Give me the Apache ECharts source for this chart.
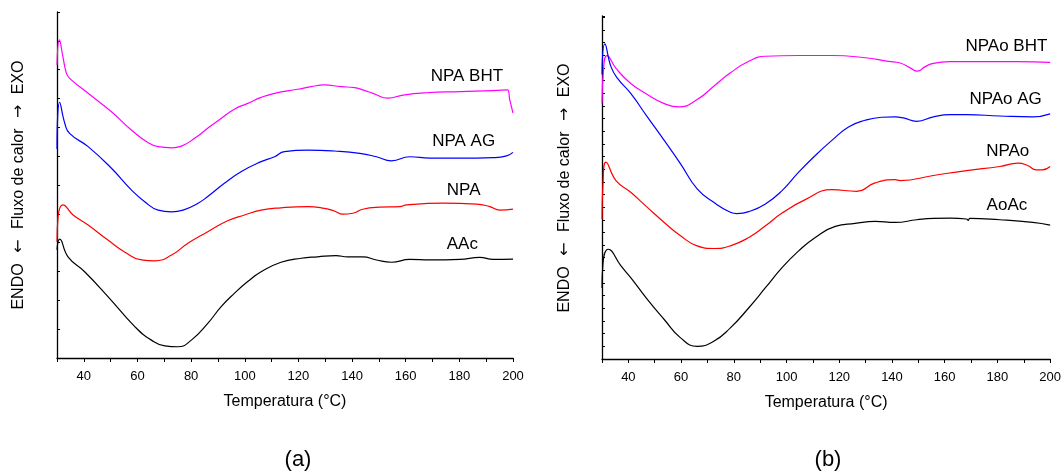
<!DOCTYPE html>
<html>
<head>
<meta charset="utf-8">
<script src="https://cdn.jsdelivr.net/npm/echarts@6/dist/echarts.min.js"></script>
<style>
  html, body { margin: 0; padding: 0; background: #fff; }
  #chart { width: 1064px; height: 471px; }
</style>
</head>
<body>
<div id="chart"></div>
<script>
// DSC curves, temperature (°C) vs. heat flow (arbitrary units, curves offset)

// Panel (a)
const NPA_BHT = [[30,10.16],[30.9,11.03],[32.2,10.45],[33.5,9.88],[34.7,9.70],[41.6,9.18],[50.3,8.54],[57.7,7.91],[63.9,7.47],[67.7,7.33],[72.7,7.29],[76.4,7.35],[81.3,7.62],[86.9,8.02],[91.2,8.31],[96.1,8.63],[101.1,8.83],[106.1,9.04],[111.1,9.18],[119.7,9.32],[124.7,9.41],[129.7,9.47],[135.9,9.41],[140.9,9.38],[144,9.30],[147.8,9.18],[153.4,9.01],[159,9.12],[167.7,9.20],[180.2,9.24],[192.6,9.27],[197.9,9.30],[198.8,8.95],[200,8.49]];
const NPA_AG = [[30,7.25],[31,8.87],[32.9,8.14],[34.7,7.79],[41.6,7.33],[50.3,6.58],[57.7,5.83],[62.7,5.42],[67.7,5.13],[72.7,5.07],[77,5.13],[82.6,5.37],[86.2,5.60],[92.4,6.06],[98.6,6.46],[106.1,6.81],[111.1,6.98],[114.8,7.16],[123.5,7.21],[133.4,7.18],[142.9,7.10],[149.1,6.98],[154.7,6.84],[161.5,6.98],[169,6.93],[180.2,6.93],[192.6,6.95],[197.6,7.01],[200,7.13]];
const NPA = [[30,4.03],[30.4,4.90],[32.2,5.31],[36,4.96],[41.6,4.61],[49,4.09],[55.2,3.68],[61.5,3.40],[66.4,3.37],[72.7,3.57],[78.8,3.98],[86.2,4.38],[93.6,4.76],[99.9,4.96],[106.1,5.13],[113.5,5.21],[123.5,5.25],[129.7,5.19],[133.4,5.10],[136.5,4.99],[140.3,5.02],[144,5.16],[150.3,5.23],[157.8,5.25],[160.3,5.31],[173.9,5.37],[186.4,5.34],[191.3,5.25],[195.1,5.13],[200,5.16]];
const AAC = [[30,3.75],[31,4.12],[34.1,3.51],[40.3,2.99],[49,2.13],[59,1.09],[65.2,0.62],[70.2,0.42],[75.1,0.39],[80.1,0.62],[86.2,1.20],[91.2,1.78],[96.1,2.24],[101.1,2.65],[106.1,2.99],[113.5,3.32],[121,3.46],[127.2,3.51],[134,3.55],[138.4,3.51],[144,3.51],[149.1,3.40],[154.7,3.32],[161.5,3.42],[169,3.40],[180.2,3.42],[187.6,3.49],[192.6,3.42],[200,3.43]];

// Panel (b)
const NPAO_BHT = [[30,20.18],[30.6,22.96],[31.9,23.97],[35.3,22.96],[40.9,21.77],[47.2,20.90],[53.6,20.18],[59.2,19.92],[66.1,20.50],[72.4,21.55],[78.7,22.61],[85.7,23.52],[92,23.92],[104.6,23.98],[117.2,23.98],[129.8,23.80],[138.6,23.52],[143.1,23.39],[146.9,23.00],[149.7,22.74],[152.6,23.10],[155.7,23.36],[162,23.49],[174.6,23.49],[187.2,23.49],[200,23.44]];
const NPAO_AG = [[30,22.5],[31.1,24.89],[33.4,23.10],[35.9,22.17],[40.9,20.98],[47.2,19.13],[53.6,17.27],[59.8,15.42],[66.1,13.44],[72.4,12.38],[78.7,11.59],[81.2,11.48],[85.7,11.64],[92,12.25],[98.3,13.30],[104.6,14.76],[110.9,16.08],[117.2,17.27],[123.5,18.33],[129.8,18.86],[136.1,19.10],[141.1,19.13],[144.3,19.05],[149.4,18.78],[155.7,19.13],[162,19.31],[168.3,19.31],[180.9,19.20],[193.4,19.13],[200,19.37]];
const NPAO = [[30,11.06],[30.4,13.97],[31.5,15.56],[35.3,14.10],[40.9,13.17],[47.2,11.98],[53.6,10.79],[59.8,9.73],[66.1,8.94],[72.4,8.73],[78.7,8.94],[85.7,9.60],[92,10.52],[98.3,11.53],[107.1,12.59],[117.2,13.38],[126.6,13.25],[133.6,13.91],[141.1,14.17],[143.1,14.10],[155.7,14.50],[168.3,14.89],[180.9,15.21],[187.8,15.48],[191.5,15.29],[194.7,14.94],[197,14.94],[200,15.21]];
const AOAC = [[30,5.6],[30.3,7.35],[32.4,8.67],[37.2,7.35],[40.9,6.43],[47.2,4.71],[53.6,3.12],[59.8,1.67],[66.1,1.00],[72.4,1.40],[78.7,2.46],[85.7,4.05],[92,5.63],[98.3,7.22],[104.6,8.54],[110.9,9.60],[118.5,10.48],[126,10.71],[133.6,10.87],[141.1,10.79],[149.4,11.00],[155.7,11.11],[162,11.13],[168.3,11.06],[168.9,10.95],[169.5,11.11],[180.9,11.00],[193.4,10.79],[200,10.58]];

// Curve name labels, anchored in data coordinates [T, flow]
const LABELS_A = [['NPA BHT', 182.8, 9.78], ['NPA AG', 181.6, 7.53], ['NPA', 181.6, 5.83], ['AAc', 181.1, 3.95]];
const LABELS_B = [['NPAo BHT', 183.4, 24.68], ['NPAo AG', 183.1, 20.48], ['NPAo', 183.9, 16.43], ['AoAc', 183.6, 12.18]];

const FONT = 'Liberation Sans, Arial, sans-serif';
const Y_NAME = 'ENDO {arr|\u2190} Fluxo de calor {arr|\u2192} EXO';

function xAxisFor(gridIndex) {
  return {
    type: 'value', gridIndex, min: 30, max: 200, interval: 10,
    name: 'Temperatura (°C)', nameLocation: 'middle', nameGap: 36,
    nameTextStyle: { fontSize: 16, color: '#000', fontFamily: FONT },
    axisLine: { show: true, lineStyle: { color: '#000', width: 1.3 } },
    axisTick: { show: true, inside: false, length: 4, lineStyle: { color: '#000', width: 1 } },
    axisLabel: { color: '#000', fontSize: 13, fontFamily: FONT, margin: 12,
      formatter: v => (v % 20 === 0 ? String(v) : '') },
    splitLine: { show: false }
  };
}

function yAxisFor(gridIndex, max) {
  return {
    type: 'value', gridIndex, min: 0, max, interval: 1,
    axisLine: { show: true, lineStyle: { color: '#000', width: 1.3 } },
    axisTick: { show: true, inside: true, length: 3, lineStyle: { color: '#000', width: 1 } },
    axisLabel: { show: false },
    splitLine: { show: false }
  };
}

function curve(name, data, color, axisIndex, labelSpec) {
  const s = {
    name, type: 'line', data, xAxisIndex: axisIndex, yAxisIndex: axisIndex,
    showSymbol: false, smooth: 0.5,
    lineStyle: { color, width: 1.2 }, itemStyle: { color },
    silent: true
  };
  if (labelSpec) {
    s.markPoint = {
      symbol: 'circle', symbolSize: 0, silent: true,
      label: { show: true, position: 'inside', formatter: '{b}', color: '#000', fontSize: 17, fontFamily: FONT },
      data: [{ name: labelSpec[0], coord: [labelSpec[1], labelSpec[2]] }]
    };
  }
  return s;
}

function yName(x, y) {
  return {
    type: 'text', x, y, rotation: Math.PI / 2,
    style: {
      text: Y_NAME, fill: '#000', fontSize: 16, fontFamily: FONT,
      align: 'center', verticalAlign: 'middle', textAlign: 'center', textVerticalAlign: 'middle',
      rich: { arr: { fontSize: 16, fontFamily: 'DejaVu Sans', fill: '#000', padding: [0, 6, 0, 6] } }
    }
  };
}

function panelTag(text, x, y) {
  return {
    type: 'text', x, y,
    style: { text, fill: '#000', fontSize: 22, fontFamily: FONT, align: 'center', verticalAlign: 'middle', textAlign: 'center', textVerticalAlign: 'middle' }
  };
}

const chart = echarts.init(document.getElementById('chart'), null, { renderer: 'canvas' });
chart.setOption({
  animation: false,
  backgroundColor: '#fff',
  grid: [
    { left: 57, right: 551, top: 12, bottom: 113 },
    { left: 602, right: 11, top: 16, bottom: 112 }
  ],
  xAxis: [xAxisFor(0), xAxisFor(1)],
  yAxis: [yAxisFor(0, 12), yAxisFor(1, 27.1)],
  series: [
    curve('NPA BHT', NPA_BHT, '#ff00ff', 0, LABELS_A[0]),
    curve('NPA AG', NPA_AG, '#0000ff', 0, LABELS_A[1]),
    curve('NPA', NPA, '#ff0000', 0, LABELS_A[2]),
    curve('AAc', AAC, '#000000', 0, LABELS_A[3]),
    curve('NPAo BHT', NPAO_BHT, '#ff00ff', 1, LABELS_B[0]),
    curve('NPAo AG', NPAO_AG, '#0000ff', 1, LABELS_B[1]),
    curve('NPAo', NPAO, '#ff0000', 1, LABELS_B[2]),
    curve('AoAc', AOAC, '#000000', 1, LABELS_B[3])
  ],
  graphic: [
    yName(19, 185),
    yName(565, 188),
    panelTag('(a)', 298, 460),
    panelTag('(b)', 828, 460)
  ]
});
</script>
</body>
</html>
